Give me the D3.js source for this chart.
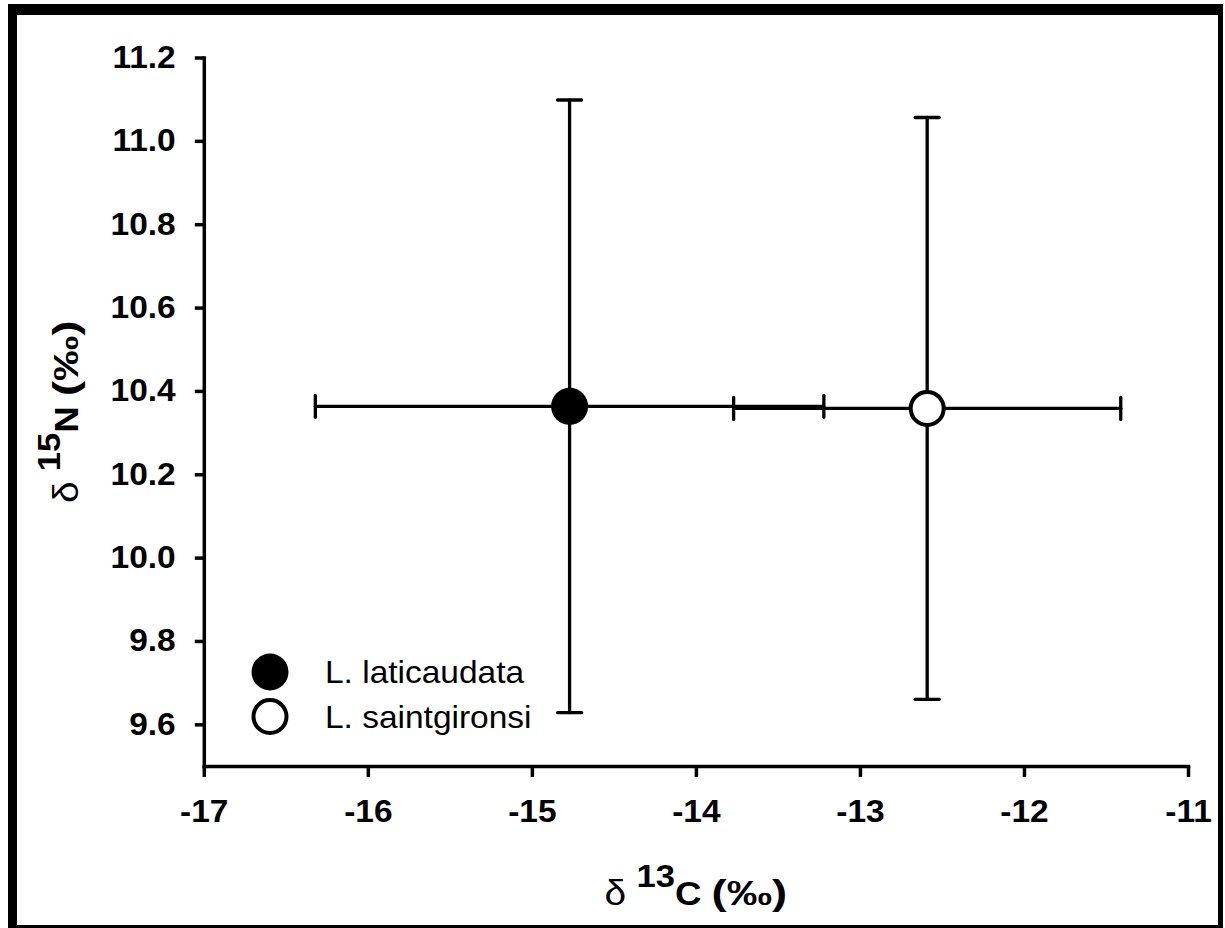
<!DOCTYPE html>
<html>
<head>
<meta charset="utf-8">
<script src="https://cdn.jsdelivr.net/npm/d3@7"></script>
<style>
  body { margin: 0; background: #fff; }
  svg { display: block; font-family: "Liberation Sans", Arial, sans-serif; }
  .axis path, .axis line { stroke: #000; stroke-width: 3.5; }
  .axis text { font-size: 31px; font-weight: bold; fill: #000; }
</style>
</head>
<body>
<script>

// species means and standard deviations (delta 13C, delta 15N)
var species = ["L. laticaudata", "L. saintgironsi"];
var carbonMean = [-14.77, -12.59];
var carbonSD = [1.55, 1.18];
var nitrogenMean = [10.363, 10.358];
var nitrogenSD = [0.735, 0.698];
var filled = [true, false];

var xTicks = [-17, -16, -15, -14, -13, -12, -11];
var yTicks = [9.6, 9.8, 10.0, 10.2, 10.4, 10.6, 10.8, 11.0, 11.2];

var W = 1225, H = 928;
var margin = { top: 57.5, right: 37, bottom: 162, left: 203.8 };
var width = W - margin.left - margin.right;
var height = H - margin.top - margin.bottom;
var stretch = 'scale(1.08,1)';   // the original text is a bit wide

var svg = d3.select('body').append('svg')
    .attr('width', W)
    .attr('height', H);

// outer frame
svg.append('rect').attr('x', 8).attr('y', 4).attr('width', 9).attr('height', 924).attr('fill', '#000');
svg.append('rect').attr('x', 8).attr('y', 4).attr('width', 1215).attr('height', 11).attr('fill', '#000');
svg.append('rect').attr('x', 1218).attr('y', 4).attr('width', 5).attr('height', 924).attr('fill', '#000');
svg.append('rect').attr('x', 8).attr('y', 925).attr('width', 1215).attr('height', 3).attr('fill', '#000');

var chart = svg.append('g')
    .attr('transform', 'translate(' + margin.left + ',' + margin.top + ')');

///////////////////////
// Scales
var x = d3.scaleLinear().domain([-17, -11]).range([0, width]);
var y = d3.scaleLinear().domain([9.5, 11.2]).range([height, 0]);

///////////////////////
// Axis
chart.append('g')
    .attr('class', 'x axis')
    .attr('transform', 'translate(0,' + height + ')')
    .call(d3.axisBottom(x).tickValues(xTicks)
      .tickFormat(function(d) { return String(d); })   // plain hyphen, not the minus sign
      .tickSize(11).tickSizeOuter(0).tickPadding(23));

chart.append('g')
    .attr('class', 'y axis')
    .call(d3.axisLeft(y).tickValues(yTicks).tickFormat(d3.format('.1f'))
      .tickSize(9).tickSizeOuter(0).tickPadding(17));

chart.selectAll('.axis text').attr('transform', stretch);
chart.selectAll('.axis .domain').attr('stroke-linecap', 'square');

///////////////////////
// Error bars
var idx = d3.range(species.length);
var capW = 12;
var bars = chart.append('g').attr('stroke', '#000').attr('stroke-width', 3.3).attr('stroke-linecap', 'round');

idx.forEach(function(i) {
  var cx = x(carbonMean[i]), cy = y(nitrogenMean[i]);
  var x0 = x(carbonMean[i] - carbonSD[i]), x1 = x(carbonMean[i] + carbonSD[i]);
  var y0 = y(nitrogenMean[i] - nitrogenSD[i]), y1 = y(nitrogenMean[i] + nitrogenSD[i]);
  bars.append('line').attr('x1', x0).attr('x2', x1).attr('y1', cy).attr('y2', cy);
  bars.append('line').attr('x1', x0).attr('x2', x0).attr('y1', cy - capW + 1).attr('y2', cy + capW - 1);
  bars.append('line').attr('x1', x1).attr('x2', x1).attr('y1', cy - capW + 1).attr('y2', cy + capW - 1);
  bars.append('line').attr('x1', cx).attr('x2', cx).attr('y1', y0).attr('y2', y1);
  bars.append('line').attr('x1', cx - capW).attr('x2', cx + capW).attr('y1', y0).attr('y2', y0);
  bars.append('line').attr('x1', cx - capW).attr('x2', cx + capW).attr('y1', y1).attr('y2', y1);
});

///////////////////////
// Points
chart.append('g').selectAll('circle')
    .data(idx)
    .enter().append('circle')
    .attr('cx', function(i) { return x(carbonMean[i]); })
    .attr('cy', function(i) { return y(nitrogenMean[i]); })
    .attr('r', function(i) { return filled[i] ? 18.5 : 16.5; })
    .attr('fill', function(i) { return filled[i] ? '#000' : '#fff'; })
    .attr('stroke', '#000')
    .attr('stroke-width', function(i) { return filled[i] ? 0 : 4; });

///////////////////////
// Legend
var legend = svg.append('g').attr('transform', 'translate(270,672)');
var leg = legend.selectAll('g')
    .data(idx)
    .enter().append('g')
    .attr('transform', function(i) { return 'translate(0,' + (i * 44.5) + ')'; });

leg.append('circle')
    .attr('r', function(i) { return filled[i] ? 18.5 : 16.5; })
    .attr('fill', function(i) { return filled[i] ? '#000' : '#fff'; })
    .attr('stroke', '#000')
    .attr('stroke-width', function(i) { return filled[i] ? 0 : 4; });

leg.append('text')
    .attr('transform', 'translate(55,11) ' + stretch)
    .attr('font-size', '31px')
    .text(function(i) { return species[i]; });

///////////////////////
// Axis titles
function axisTitle(el, sup, letter) {
  el.attr('text-anchor', 'middle')
    .attr('font-size', '34px')
    .attr('font-weight', 'bold');
  el.append('tspan').attr('font-weight', 'normal').attr('font-size', '36px').text('δ');
  el.append('tspan').text(' ');
  el.append('tspan').attr('dy', -18).attr('font-size', '32px').text(sup);
  el.append('tspan').attr('dy', 18).text(letter + ' ');
  el.append('tspan').attr('font-size', '36px')
    .attr('textLength', 70).attr('lengthAdjust', 'spacingAndGlyphs')
    .text('(‰)');
}

axisTitle(svg.append('text')
    .attr('transform', 'translate(' + (margin.left + width / 2) + ',905) ' + stretch), '13', 'C');

axisTitle(svg.append('text')
    .attr('transform', 'translate(78,' + (margin.top + height / 2) + ') rotate(-90) ' + stretch), '15', 'N');

</script>
</body>
</html>
